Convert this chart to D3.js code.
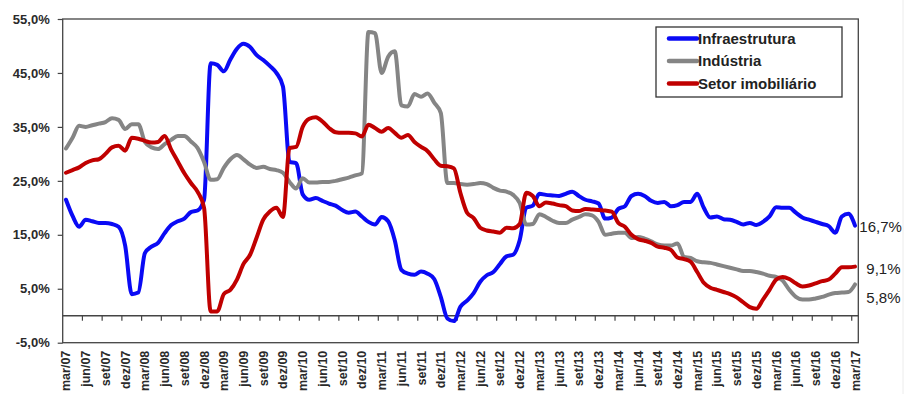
<!DOCTYPE html>
<html>
<head>
<meta charset="utf-8">
<script src="https://cdn.jsdelivr.net/npm/d3@7"></script>
<style>
  body { margin: 0; background: #fff; }
  svg { display: block; font-family: "Liberation Sans", Arial, sans-serif; }
</style>
</head>
<body>
<div id="chart-area"></div>
<script>
// monthly series, mar/07 .. mar/17
const monthNames = ['jan', 'fev', 'mar', 'abr', 'mai', 'jun', 'jul', 'ago', 'set', 'out', 'nov', 'dez'];
const categories = [];
for (let k = 0; k < 121; k++) {
  const m = (2 + k) % 12;
  const yr = 7 + Math.floor((2 + k) / 12);
  categories.push(monthNames[m] + '/' + String(yr).padStart(2, '0'));
}

const infraestrutura = [
  21.5, 18.5, 16.5, 17.8, 17.5, 17.2, 17.2, 17.0, 16.5, 13.0, 4.0, 4.3,
  11.6, 12.8, 13.5, 15.3, 16.8, 17.5, 18.0, 19.2, 19.5, 21.5, 46.8, 46.5,
  45.3, 47.5, 49.5, 50.4, 49.8, 48.3, 47.4, 46.3, 45.0, 42.5, 28.5, 28.3,
  22.5, 21.5, 21.8, 21.3, 20.8, 20.4, 19.6, 19.1, 19.3, 18.4, 17.4, 16.9,
  18.3, 17.5, 14.0, 8.5, 7.8, 7.6, 8.2, 7.8, 6.8, 3.5, -0.5, -1.0,
  1.7, 2.8, 4.2, 6.3, 7.5, 8.1, 9.6, 11.0, 11.3, 14.0, 20.0, 20.4,
  22.6, 22.4, 22.3, 22.2, 22.6, 23.0, 22.2, 21.5, 21.2, 20.8, 18.0, 18.2,
  19.8, 20.3, 22.2, 22.6, 22.2, 21.3, 20.9, 21.1, 20.3, 20.5, 21.1, 21.1,
  22.6, 20.0, 18.2, 18.4, 17.9, 17.8, 17.4, 16.9, 17.2, 16.8, 17.4, 18.4,
  20.1, 20.0, 20.0, 19.1, 18.2, 17.8, 17.4, 17.0, 16.6, 15.4, 18.4, 18.9,
  16.7
];

const industria = [
  31.0, 33.0, 35.2, 35.0, 35.3, 35.6, 35.9, 36.6, 36.3, 34.6, 35.5, 35.5,
  32.2, 31.2, 30.9, 31.8, 32.6, 33.3, 33.3, 32.3, 31.1, 28.5, 25.2, 25.3,
  27.4, 29.0, 29.8, 29.0, 28.0, 27.4, 27.6, 27.2, 27.0, 26.5, 24.8, 23.6,
  25.5, 24.7, 24.7, 24.8, 24.8, 25.0, 25.3, 25.6, 26.0, 26.4, 52.6, 52.4,
  45.0, 48.0, 49.0, 39.0, 38.8, 41.1, 40.6, 41.2, 39.5, 37.6, 24.6, 24.6,
  24.4, 24.3, 24.4, 24.6, 24.4, 23.7, 23.2, 23.0, 22.4, 20.9, 16.9, 17.0,
  18.8, 18.3, 17.6, 17.2, 17.2, 17.8, 18.3, 18.8, 18.6, 17.4, 15.0, 15.2,
  15.4, 15.4, 14.4, 14.6, 14.3, 13.8, 13.2, 13.0, 13.0, 13.4, 10.9, 10.7,
  10.1, 9.9, 9.8, 9.5, 9.2, 8.9, 8.6, 8.3, 8.3, 8.1, 7.8, 7.4,
  7.2, 6.5, 4.8, 3.5, 3.0, 3.0, 3.2, 3.5, 3.9, 4.2, 4.3, 4.4,
  5.8
];

const imobiliario = [
  26.5, 27.0, 27.5, 28.3, 28.8, 29.0, 30.0, 31.2, 31.5, 30.6, 33.0, 32.8,
  32.4, 32.1, 32.2, 33.3, 30.8, 28.6, 26.4, 24.6, 23.0, 20.0, 0.8, 0.8,
  4.0, 4.8, 6.7, 9.6, 11.3, 14.5, 17.8, 19.3, 20.0, 18.3, 31.1, 31.3,
  35.0, 36.5, 36.8, 36.0, 34.8, 34.0, 33.9, 33.9, 33.8, 33.2, 35.4, 34.8,
  34.1, 34.8, 33.9, 33.0, 33.5, 32.2, 31.3, 30.5, 29.0, 27.8, 27.7, 27.3,
  22.7, 19.1, 18.1, 16.3, 15.8, 15.6, 15.4, 16.3, 16.2, 17.0, 22.8, 22.2,
  20.3, 21.0, 20.8, 20.5, 20.3, 19.5, 19.4, 19.8, 19.7, 19.6, 19.5, 19.3,
  17.2, 16.5, 15.0, 14.2, 13.9, 13.5, 12.8, 12.6, 12.2, 10.8, 10.5, 10.0,
  8.1, 6.1, 5.2, 4.8, 4.4, 4.0, 3.4, 2.5, 1.6, 1.3, 3.0, 4.8,
  6.7, 7.2, 6.8, 6.0, 5.4, 5.6, 6.0, 6.4, 6.7, 7.8, 9.0, 9.0,
  9.1
];

const yTicks = [-5, 5, 15, 25, 35, 45, 55];
const tickLabels = categories.filter((c, i) => i % 3 === 0);
const seriesNames = ['Infraestrutura', 'Indústria', 'Setor imobiliário'];
const endLabels = ['16,7%', '5,8%', '9,1%'];

const series = [
  { name: seriesNames[0], values: infraestrutura, color: '#0a0af5', label: endLabels[0], dx: 1, dy: 1.5 },
  { name: seriesNames[1], values: industria, color: '#858585', label: endLabels[1], dx: 8, dy: 13.5 },
  { name: seriesNames[2], values: imobiliario, color: '#c00000', label: endLabels[2], dx: 8, dy: 2.5 }
];

const width = 918;
const height = 394;
const plot = { left: 62.7, right: 858.3, top: 19, bottom: 342.7 };

const svg = d3.select('#chart-area')
  .append('svg')
  .attr('width', width)
  .attr('height', height);

const x = d3.scaleBand()
  .domain(categories)
  .range([plot.left, plot.right])
  .padding(0);

const y = d3.scaleLinear()
  .domain([-5, 55])
  .range([plot.bottom, plot.top]);

const bw = x.bandwidth();

// faint page edge
svg.append('line')
  .attr('x1', 903).attr('x2', 903)
  .attr('y1', 0).attr('y2', height)
  .attr('stroke', '#ececec')
  .attr('stroke-width', 1);

// Y axis
const yAxisCall = d3.axisLeft(y)
  .tickValues(yTicks)
  .tickSize(5)
  .tickPadding(8)
  .tickFormat((d) => d.toFixed(1).replace('.', ',') + '%');

const yAxis = svg.append('g')
  .attr('class', 'y axis-left')
  .attr('transform', 'translate(' + plot.left + ', 0)')
  .call(yAxisCall);
yAxis.select('.domain').remove();
yAxis.selectAll('line').attr('stroke', '#444').attr('stroke-width', 1.2);
yAxis.selectAll('text')
  .attr('font-size', '13px')
  .attr('font-weight', 'bold')
  .attr('fill', '#2a2a2a');

// X labels
const xAxisCall = d3.axisBottom(x)
  .tickValues(tickLabels)
  .tickSize(0);

const xAxis = svg.append('g')
  .attr('class', 'x axis-bottom')
  .attr('transform', 'translate(0, ' + plot.bottom + ')')
  .call(xAxisCall);
xAxis.select('.domain').remove();
xAxis.selectAll('text')
  .attr('transform', 'rotate(-90)')
  .attr('text-anchor', 'end')
  .attr('x', -8)
  .attr('y', 0)
  .attr('dy', '0.36em')
  .attr('font-size', '12.5px')
  .attr('font-weight', 'bold')
  .attr('fill', '#2a2a2a');

// frame
svg.append('rect')
  .attr('x', plot.left)
  .attr('y', plot.top)
  .attr('width', plot.right - plot.left)
  .attr('height', plot.bottom - plot.top)
  .attr('fill', 'none')
  .attr('stroke', '#444')
  .attr('stroke-width', 1.3);

// zero line with category ticks
svg.append('line')
  .attr('x1', plot.left).attr('x2', plot.right)
  .attr('y1', y(0)).attr('y2', y(0))
  .attr('stroke', '#444')
  .attr('stroke-width', 1.3);

svg.selectAll('.cat-tick')
  .data(categories.filter((c, i) => i > 0 && i % 3 === 0))
  .enter()
  .append('line')
  .attr('class', 'cat-tick')
  .attr('x1', (d) => x(d)).attr('x2', (d) => x(d))
  .attr('y1', y(0)).attr('y2', y(0) + 5)
  .attr('stroke', '#444')
  .attr('stroke-width', 1.2);

// lines (smoothed like the original)
const line = d3.line()
  .x((d, i) => x(categories[i]) + bw / 2)
  .y((d) => y(d))
  .curve(d3.curveMonotoneX);

svg.selectAll('.series')
  .data(series)
  .enter()
  .append('path')
  .attr('class', 'series')
  .attr('d', (d) => line(d.values))
  .attr('fill', 'none')
  .attr('stroke', (d) => d.color)
  .attr('stroke-width', 4)
  .attr('stroke-linejoin', 'round')
  .attr('stroke-linecap', 'round');

// end labels
svg.selectAll('.end-label')
  .data(series)
  .enter()
  .append('text')
  .attr('class', 'end-label')
  .attr('x', (d) => plot.right + d.dx)
  .attr('y', (d) => y(d.values[d.values.length - 1]) + d.dy)
  .attr('dy', '0.35em')
  .attr('font-size', '15px')
  .attr('fill', '#222')
  .text((d) => d.label);

// legend
const legend = svg.append('g')
  .attr('transform', 'translate(656, 27)');

legend.append('rect')
  .attr('width', 186)
  .attr('height', 70)
  .attr('fill', '#fff')
  .attr('stroke', '#333')
  .attr('stroke-width', 1.3);

const rows = legend.selectAll('.row')
  .data(series)
  .enter()
  .append('g')
  .attr('class', 'row')
  .attr('transform', (d, i) => 'translate(0, ' + (11.5 + i * 22.5) + ')');

rows.append('line')
  .attr('x1', 13).attr('x2', 41)
  .attr('y1', 0).attr('y2', 0)
  .attr('stroke', (d) => d.color)
  .attr('stroke-width', 4.5)
  .attr('stroke-linecap', 'round');

rows.append('text')
  .attr('x', 42)
  .attr('y', 0)
  .attr('dy', '0.35em')
  .attr('font-size', '15px')
  .attr('font-weight', 'bold')
  .attr('fill', '#222')
  .text((d) => d.name);
</script>
</body>
</html>
